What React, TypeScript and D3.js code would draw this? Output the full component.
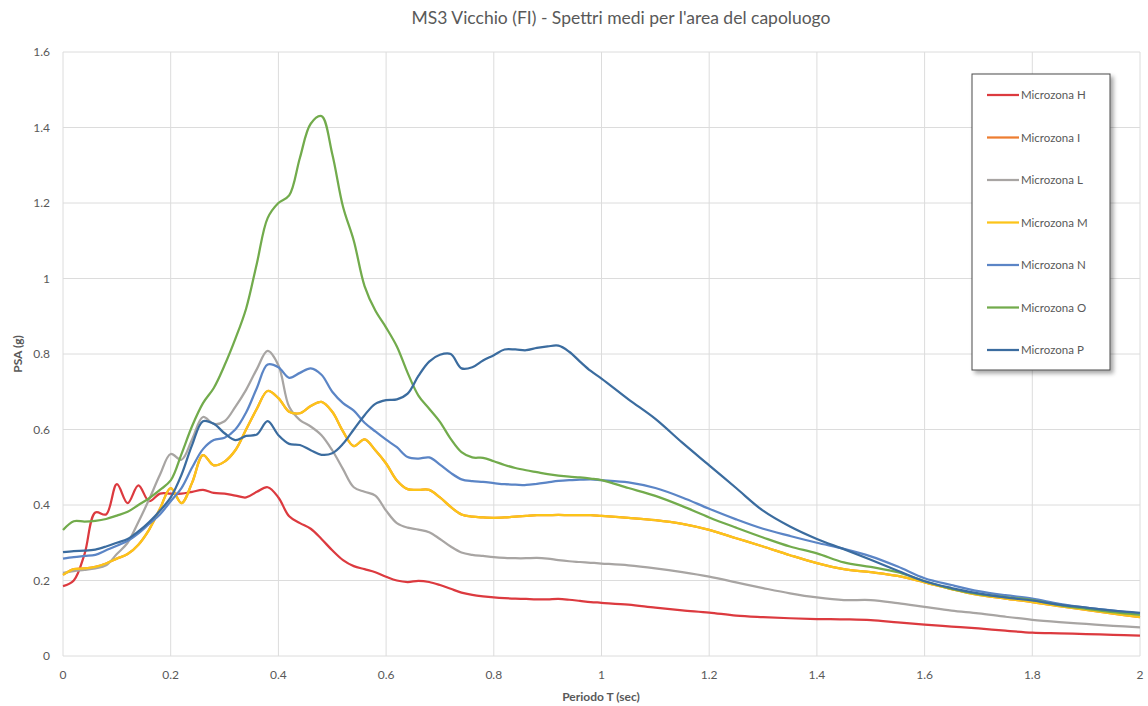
import React, { useEffect, useRef } from 'react';
import * as d3 from 'd3';

const periods = [
  0, 0.02, 0.04, 0.06, 0.08, 0.1, 0.12, 0.14, 0.16, 0.18, 0.2, 0.22, 0.24, 0.26, 0.28, 0.3, 0.32, 0.34, 0.36, 0.38,
  0.4, 0.42, 0.44, 0.46, 0.48, 0.5, 0.52, 0.54, 0.56, 0.58, 0.6, 0.62, 0.64, 0.66, 0.68, 0.7, 0.72, 0.74, 0.76, 0.78,
  0.8, 0.82, 0.84, 0.86, 0.88, 0.9, 0.92, 0.94, 0.96, 0.98, 1.0, 1.05, 1.1, 1.15, 1.2, 1.25, 1.3, 1.35, 1.4, 1.45,
  1.5, 1.55, 1.6, 1.65, 1.7, 1.75, 1.8, 1.85, 1.9, 1.95, 2.0,
];

const zonaH = [
  0.185, 0.2, 0.27, 0.38, 0.375, 0.455, 0.405, 0.452, 0.41, 0.43, 0.43, 0.43, 0.435, 0.44, 0.432, 0.43, 0.425, 0.42, 0.435, 0.447,
  0.42, 0.37, 0.352, 0.337, 0.31, 0.28, 0.254, 0.238, 0.23, 0.222, 0.21, 0.2, 0.196, 0.199, 0.196, 0.188, 0.178, 0.168, 0.162, 0.158,
  0.155, 0.153, 0.152, 0.151, 0.15, 0.15, 0.151, 0.149, 0.146, 0.143, 0.141, 0.136, 0.128, 0.121, 0.115, 0.107, 0.103, 0.1, 0.098, 0.097,
  0.095, 0.089, 0.083, 0.078, 0.073, 0.067, 0.062, 0.06, 0.058, 0.056, 0.054,
];

const zonaI = [
  0.215, 0.23, 0.232, 0.236, 0.245, 0.258, 0.27, 0.295, 0.335, 0.39, 0.445, 0.405, 0.46, 0.532, 0.505, 0.515, 0.545, 0.6, 0.655, 0.702,
  0.683, 0.647, 0.643, 0.662, 0.673, 0.647, 0.595, 0.556, 0.574, 0.545, 0.51, 0.465, 0.442, 0.44, 0.44, 0.42, 0.395, 0.375, 0.369, 0.367,
  0.366, 0.367, 0.369, 0.371, 0.373, 0.373, 0.374, 0.373, 0.373, 0.373, 0.371, 0.366, 0.36, 0.35, 0.334, 0.312, 0.29, 0.267, 0.246, 0.23,
  0.222, 0.212, 0.195, 0.177, 0.162, 0.152, 0.143, 0.132, 0.122, 0.112, 0.103,
];

const zonaL = [
  0.22, 0.225, 0.228, 0.232, 0.24, 0.27, 0.3, 0.355, 0.415, 0.48, 0.535, 0.52, 0.575, 0.633, 0.615, 0.622, 0.66, 0.705, 0.76, 0.808,
  0.77, 0.66, 0.625, 0.608, 0.585, 0.545, 0.495, 0.447, 0.435, 0.425, 0.385, 0.352, 0.34, 0.335, 0.328, 0.31, 0.29, 0.274, 0.268, 0.265,
  0.262, 0.26, 0.259, 0.259, 0.26, 0.258, 0.254, 0.251, 0.249, 0.247, 0.245, 0.24, 0.232, 0.222, 0.21, 0.195, 0.18, 0.166, 0.155, 0.148,
  0.148, 0.14, 0.13, 0.12, 0.113, 0.104, 0.096, 0.09, 0.085, 0.08, 0.076,
];

const zonaM = [
  0.215, 0.23, 0.232, 0.236, 0.245, 0.258, 0.27, 0.295, 0.335, 0.39, 0.445, 0.405, 0.46, 0.532, 0.505, 0.515, 0.545, 0.6, 0.655, 0.702,
  0.683, 0.647, 0.643, 0.662, 0.673, 0.647, 0.595, 0.556, 0.574, 0.545, 0.51, 0.465, 0.442, 0.44, 0.44, 0.42, 0.395, 0.375, 0.369, 0.367,
  0.366, 0.367, 0.369, 0.371, 0.373, 0.373, 0.374, 0.373, 0.373, 0.373, 0.371, 0.366, 0.36, 0.35, 0.334, 0.312, 0.29, 0.267, 0.246, 0.23,
  0.222, 0.212, 0.195, 0.177, 0.162, 0.152, 0.143, 0.132, 0.122, 0.112, 0.103,
];

const zonaN = [
  0.258, 0.262, 0.265, 0.268, 0.28, 0.292, 0.305, 0.325, 0.35, 0.375, 0.41, 0.445, 0.5, 0.548, 0.572, 0.578, 0.6, 0.645, 0.71, 0.772,
  0.765, 0.737, 0.75, 0.762, 0.745, 0.7, 0.67, 0.65, 0.618, 0.595, 0.573, 0.553, 0.527, 0.523, 0.526, 0.507, 0.485, 0.468, 0.463, 0.461,
  0.458, 0.455, 0.454, 0.453, 0.456, 0.46, 0.464, 0.466, 0.467, 0.468, 0.466, 0.46, 0.445, 0.42, 0.39, 0.362, 0.337, 0.318, 0.3, 0.284,
  0.264, 0.237, 0.206, 0.188, 0.172, 0.161, 0.152, 0.138, 0.128, 0.12, 0.112,
];

const zonaO = [
  0.334, 0.357, 0.356, 0.358, 0.363, 0.372, 0.382, 0.4, 0.418, 0.44, 0.465, 0.535, 0.61, 0.67, 0.71, 0.77, 0.84, 0.92, 1.04, 1.16,
  1.2, 1.22, 1.32, 1.41, 1.43, 1.33, 1.19, 1.1, 0.98, 0.915, 0.87, 0.82, 0.75, 0.69, 0.655, 0.62, 0.575, 0.54, 0.526, 0.525,
  0.516, 0.506, 0.498, 0.492, 0.487, 0.482, 0.478, 0.475, 0.473, 0.47, 0.466, 0.445, 0.424, 0.397, 0.367, 0.34, 0.314, 0.29, 0.272, 0.248,
  0.236, 0.222, 0.198, 0.178, 0.164, 0.156, 0.148, 0.135, 0.125, 0.116, 0.109,
];

const zonaP = [
  0.275, 0.278, 0.279, 0.282, 0.29, 0.3, 0.31, 0.33, 0.355, 0.385, 0.42, 0.48, 0.56, 0.622, 0.615, 0.59, 0.572, 0.583, 0.587, 0.622,
  0.585, 0.562, 0.559, 0.545, 0.533, 0.537, 0.562, 0.6, 0.638, 0.668, 0.678, 0.68, 0.695, 0.742, 0.78, 0.798, 0.8, 0.762, 0.765, 0.783,
  0.797, 0.812, 0.812, 0.81, 0.816, 0.82, 0.822, 0.806, 0.78, 0.755, 0.735, 0.68, 0.628, 0.565, 0.505, 0.445, 0.385, 0.343, 0.31, 0.283,
  0.255, 0.226, 0.198, 0.18, 0.166, 0.155, 0.147, 0.136, 0.128, 0.12, 0.114,
];

const seriesNames = ['Microzona H', 'Microzona I', 'Microzona L', 'Microzona M', 'Microzona N', 'Microzona O', 'Microzona P'];
const seriesValues = [zonaH, zonaI, zonaL, zonaM, zonaN, zonaO, zonaP];
const seriesColors = ['#dc3a3f', '#ed7d31', '#a8a5a3', '#fcc419', '#5b85c6', '#72ab4c', '#3b6c9f'];

const xTicks = [0, 0.2, 0.4, 0.6, 0.8, 1, 1.2, 1.4, 1.6, 1.8, 2];
const yTicks = [0, 0.2, 0.4, 0.6, 0.8, 1, 1.2, 1.4, 1.6];

const W = 1148;
const H = 706;
const FONT = 'Lato, "Open Sans", sans-serif';

const App: React.FC = () => {
  const ref = useRef<SVGSVGElement>(null);

  useEffect(() => {
    const svg = d3.select(ref.current);
    svg.selectAll('*').remove();

    const x = d3.scaleLinear().domain([0, 2]).range([63, 1140]);
    const y = d3.scaleLinear().domain([0, 1.6]).range([656, 52]);

    svg.append('rect').attr('width', W).attr('height', H).attr('fill', '#fff');

    const defs = svg.append('defs');
    const f = defs.append('filter').attr('id', 'shadow').attr('x', '-10%').attr('y', '-10%').attr('width', '130%').attr('height', '130%');
    f.append('feDropShadow').attr('dx', 3).attr('dy', 3).attr('stdDeviation', 2).attr('flood-color', '#000').attr('flood-opacity', 0.35);

    // grid
    svg.append('g')
      .selectAll('line')
      .data(yTicks)
      .enter()
      .append('line')
      .attr('x1', x(0)).attr('x2', x(2))
      .attr('y1', d => y(d)).attr('y2', d => y(d))
      .attr('stroke', '#dcdcdc').attr('stroke-width', 1);
    svg.append('g')
      .selectAll('line')
      .data(xTicks)
      .enter()
      .append('line')
      .attr('x1', d => x(d)).attr('x2', d => x(d))
      .attr('y1', y(0)).attr('y2', y(1.6))
      .attr('stroke', '#dcdcdc').attr('stroke-width', 1);

    // tick labels
    svg.append('g')
      .selectAll('text')
      .data(yTicks)
      .enter()
      .append('text')
      .attr('x', 50).attr('y', d => y(d) + 4)
      .attr('text-anchor', 'end')
      .attr('font-family', FONT).attr('font-size', 12).attr('fill', '#595959')
      .text(d => String(d));
    svg.append('g')
      .selectAll('text')
      .data(xTicks)
      .enter()
      .append('text')
      .attr('x', d => x(d)).attr('y', 679)
      .attr('text-anchor', 'middle')
      .attr('font-family', FONT).attr('font-size', 12).attr('fill', '#595959')
      .text(d => String(d));

    // titles
    svg.append('text')
      .attr('x', 621).attr('y', 24)
      .attr('text-anchor', 'middle')
      .attr('font-family', FONT).attr('font-size', 17.5).attr('fill', '#595959')
      .text("MS3 Vicchio (FI) - Spettri medi per l'area del capoluogo");
    svg.append('text')
      .attr('x', 601).attr('y', 701)
      .attr('text-anchor', 'middle')
      .attr('font-family', FONT).attr('font-size', 12).attr('font-weight', 'bold').attr('fill', '#595959')
      .text('Periodo T (sec)');
    svg.append('text')
      .attr('transform', 'translate(22,354) rotate(-90)')
      .attr('text-anchor', 'middle')
      .attr('font-family', FONT).attr('font-size', 12).attr('font-weight', 'bold').attr('fill', '#595959')
      .text('PSA (g)');

    // lines
    const line = d3.line<number>()
      .x((_, i) => x(periods[i]))
      .y(d => y(d))
      .curve(d3.curveCatmullRom.alpha(0.5));

    svg.append('g')
      .selectAll('path')
      .data(seriesValues)
      .enter()
      .append('path')
      .attr('d', d => line(d))
      .attr('fill', 'none')
      .attr('stroke', (_, i) => seriesColors[i])
      .attr('stroke-width', 2.25)
      .attr('stroke-linejoin', 'round');

    // legend
    const lg = svg.append('g');
    lg.append('rect')
      .attr('x', 972).attr('y', 74).attr('width', 138).attr('height', 296)
      .attr('fill', '#fff').attr('stroke', '#4a4a4a').attr('stroke-width', 1)
      .attr('filter', 'url(#shadow)');
    const items = lg.selectAll('g.item')
      .data(seriesNames)
      .enter()
      .append('g')
      .attr('class', 'item')
      .attr('transform', (_, i) => `translate(0,${95 + i * 42.5})`);
    items.append('line')
      .attr('x1', 987).attr('x2', 1019).attr('y1', 0).attr('y2', 0)
      .attr('stroke', (_, i) => seriesColors[i]).attr('stroke-width', 2.25);
    items.append('text')
      .attr('x', 1021).attr('y', 4)
      .attr('font-family', FONT).attr('font-size', 11.5).attr('fill', '#595959')
      .text(d => d);
  }, []);

  return (
    <div style={{ position: 'absolute', left: 0, top: 0 }}>
      <svg ref={ref} width={W} height={H} style={{ display: 'block' }} />
    </div>
  );
};

export default App;
